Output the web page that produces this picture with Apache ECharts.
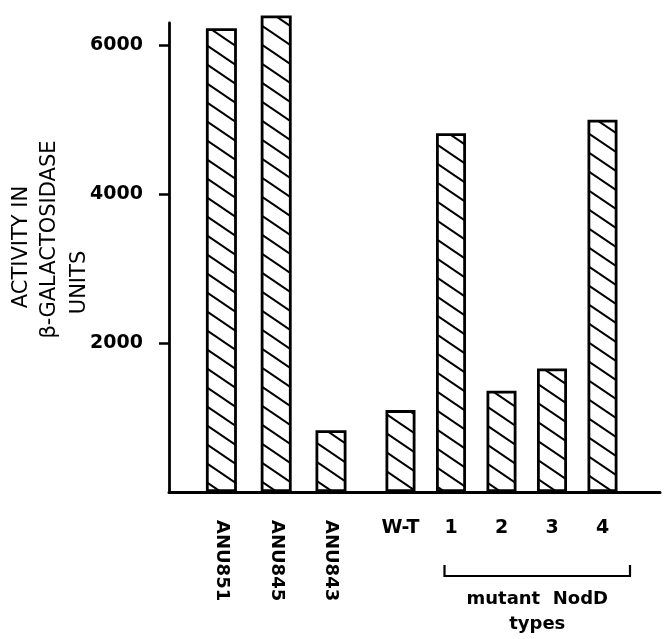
<!DOCTYPE html>
<html>
<head>
<meta charset="utf-8">
<script src="https://cdn.jsdelivr.net/npm/echarts@6/dist/echarts.min.js"></script>
<style>
html,body{margin:0;padding:0;background:#fff;}
#chart{width:665px;height:639px;}
</style>
</head>
<body>
<div id="chart"></div>
<script>
// ---- data ----
const categoriesA = ['ANU851', 'ANU845', 'ANU843'];
const valuesA = [6230, 6400, 830];
const categoriesB = ['W-T', '1', '2', '3', '4'];
const valuesB = [1100, 4820, 1360, 1660, 5000];
const yTicks = [2000, 4000, 6000];
const yTitleLines = ['ACTIVITY IN', 'β-GALACTOSIDASE', 'UNITS'];
const groupLabelLines = ['mutant  NodD', 'types'];

// ---- hatch pattern ----
function makeHatch() {
  const w = 28, h = 19;
  const c = document.createElement('canvas');
  c.width = w; c.height = h;
  const ctx = c.getContext('2d');
  ctx.fillStyle = '#fff';
  ctx.fillRect(0, 0, w, h);
  ctx.strokeStyle = '#000';
  ctx.lineWidth = 2;
  for (let k = -1; k <= 1; k++) {
    ctx.beginPath();
    ctx.moveTo(-w, -h + k * h);
    ctx.lineTo(2 * w, 2 * h + k * h);
    ctx.stroke();
  }
  return c;
}
const hatch = { image: makeHatch(), repeat: 'repeat' };

const FONT = 'DejaVu Sans';
const chart = echarts.init(document.getElementById('chart'), null, { renderer: 'canvas' });

const gridTop = 23, gridBottom = 147, yMax = 6300;

const barStyle = { color: hatch, borderColor: '#000', borderWidth: 2.8 };
const labelStyle = { fontFamily: FONT, fontWeight: 'bold', color: '#000' };

chart.setOption({
  animation: false,
  backgroundColor: '#fff',
  grid: [
    { left: 169, right: 5, top: gridTop, bottom: gridBottom },
    { left: 194, right: 306.6, top: gridTop, bottom: gridBottom },
    { left: 375.25, right: 37.25, top: gridTop, bottom: gridBottom }
  ],
  xAxis: [
    {
      gridIndex: 0, type: 'value', min: 0, max: 1,
      axisLine: { show: true, lineStyle: { color: '#000', width: 3 } },
      axisTick: { show: false }, axisLabel: { show: false }, splitLine: { show: false }
    },
    {
      gridIndex: 1, type: 'category', data: categoriesA,
      axisLine: { show: false }, axisTick: { show: false }, splitLine: { show: false },
      axisLabel: Object.assign({ interval: 0, rotate: -90, margin: 28, fontSize: 18 }, labelStyle)
    },
    {
      gridIndex: 2, type: 'category', data: categoriesB,
      axisLine: { show: false }, axisTick: { show: false }, splitLine: { show: false },
      axisLabel: Object.assign({ interval: 0, margin: 27, fontSize: 19 }, labelStyle)
    }
  ],
  yAxis: [
    {
      gridIndex: 0, type: 'value', min: 0, max: yMax, interval: 2000,
      axisLine: { show: true, lineStyle: { color: '#000', width: 2.8 } },
      axisTick: { show: true, length: 10, customValues: yTicks, lineStyle: { color: '#000', width: 2.5 } },
      axisLabel: Object.assign({ customValues: yTicks, margin: 26, fontSize: 19,
        formatter: v => (v === 0 ? '' : String(v)) }, labelStyle),
      splitLine: { show: false }
    },
    { gridIndex: 1, type: 'value', min: 0, max: yMax, show: false, splitLine: { show: false } },
    { gridIndex: 2, type: 'value', min: 0, max: yMax, show: false, splitLine: { show: false } }
  ],
  series: [
    { type: 'bar', xAxisIndex: 1, yAxisIndex: 1, data: valuesA, barWidth: 31, clip: false, itemStyle: barStyle, silent: true },
    { type: 'bar', xAxisIndex: 2, yAxisIndex: 2, data: valuesB, barWidth: 30, clip: false, itemStyle: barStyle, silent: true }
  ]
});

// ---- annotations anchored to the axes ----
const p1 = chart.convertToPixel({ xAxisIndex: 2 }, '1');
const p4 = chart.convertToPixel({ xAxisIndex: 2 }, '4');
const bL = p1 - 6.5, bR = p4 + 27.5, bY = 576, bTop = 565;
const midX = (bL + bR) / 2;

function txt(text, x, y, size, rot, weight) {
  return {
    type: 'text', x: x, y: y, rotation: rot || 0, silent: true,
    style: { text: text, fontSize: size, fontFamily: FONT, fontWeight: weight || 'normal', fill: '#000',
      align: 'center', verticalAlign: 'middle', textAlign: 'center', textVerticalAlign: 'middle' }
  };
}

chart.setOption({
  graphic: [
    txt(yTitleLines[0], 22, 247, 21, Math.PI / 2),
    txt(yTitleLines[1], 50, 239.5, 21, Math.PI / 2),
    txt(yTitleLines[2], 80, 282.5, 21, Math.PI / 2),
    {
      type: 'polyline', silent: true,
      shape: { points: [[bL, bTop], [bL, bY], [bR, bY], [bR, bTop]] },
      style: { stroke: '#000', lineWidth: 2.2, fill: null }
    },
    txt(groupLabelLines[0], midX, 599, 18, 0, 'bold'),
    txt(groupLabelLines[1], midX, 624, 18, 0, 'bold')
  ]
});
</script>
</body>
</html>
